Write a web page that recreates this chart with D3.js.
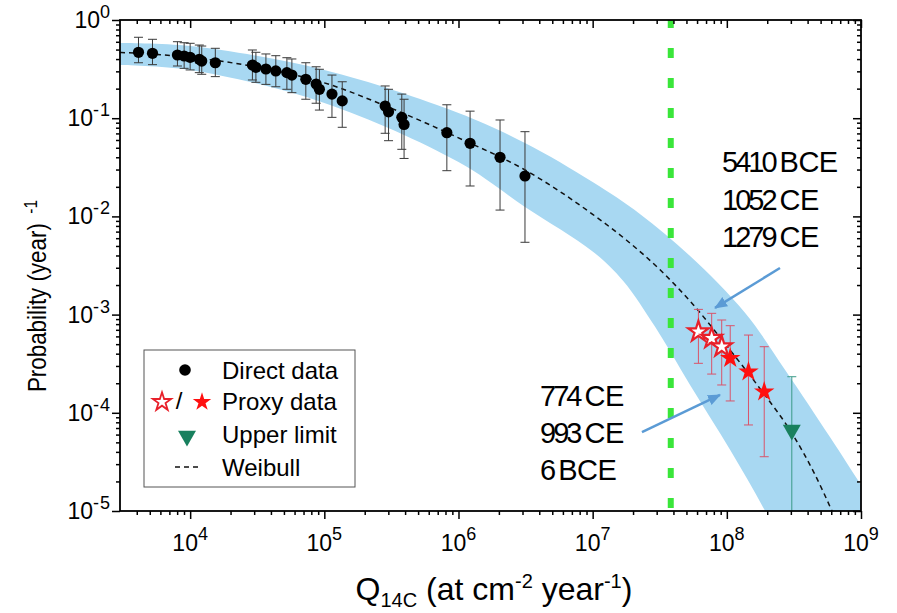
<!DOCTYPE html>
<html><head><meta charset="utf-8">
<script src="https://cdn.jsdelivr.net/npm/d3@7"></script>
<style>
html,body{margin:0;padding:0;background:#fff;}
svg{display:block;font-family:"Liberation Sans",Arial,sans-serif;}
</style></head><body>
<svg id="chart" width="897" height="613"></svg>
<script>
// ---------------- data ----------------
const xDomain = [3e3, 1e9];
const yDomain = [1e-5, 1];
const xTickExp = [4, 5, 6, 7, 8, 9];
const yTickExp = [0, -1, -2, -3, -4, -5];

// Direct data (black dots)
const directQ   = [4.12e3, 5.24e3, 8.04e3, 9.02e3, 1.0e4, 1.17e4, 1.22e4, 1.54e4, 2.91e4, 3.09e4, 3.67e4, 4.35e4, 5.26e4, 5.73e4, 7.28e4, 8.69e4, 9.19e4, 1.14e5, 1.36e5, 2.84e5, 3.01e5, 3.78e5, 3.93e5, 8.19e5, 1.22e6, 2.04e6, 3.13e6];
const directP   = [0.469, 0.458, 0.440, 0.430, 0.417, 0.398, 0.382, 0.367, 0.348, 0.330, 0.317, 0.303, 0.291, 0.275, 0.249, 0.223, 0.197, 0.176, 0.150, 0.133, 0.116, 0.102, 0.0863, 0.0712, 0.0555, 0.040, 0.0258];
const directUp  = [0.667, 0.636, 0.601, 0.587, 0.579, 0.556, 0.543, 0.515, 0.495, 0.469, 0.451, 0.433, 0.413, 0.401, 0.367, 0.334, 0.315, 0.275, 0.235, 0.213, 0.197, 0.176, 0.156, 0.137, 0.118, 0.0959, 0.0729];
const directLow = [0.367, 0.351, 0.340, 0.322, 0.310, 0.291, 0.280, 0.265, 0.245, 0.232, 0.221, 0.209, 0.197, 0.182, 0.156, 0.142, 0.121, 0.102, 0.0808, 0.0702, 0.0590, 0.0482, 0.0389, 0.0292, 0.0204, 0.0116, 0.00545];

// Proxy data (stars)
const proxyQ      = [6.14e7, 7.71e7, 9.16e7, 1.06e8, 1.45e8, 1.90e8];
const proxyP      = [6.70e-4, 5.74e-4, 4.71e-4, 3.59e-4, 2.62e-4, 1.64e-4];
const proxyUp     = [1.13e-3, 1.03e-3, 8.81e-4, 7.71e-4, 6.19e-4, 4.71e-4];
const proxyLow    = [3.19e-4, 2.48e-4, 1.92e-4, 1.32e-4, 7.52e-5, 3.57e-5];
const proxyHollow = [true, true, true, false, false, false];

// Upper limit (triangle)
const limitQ   = [3.05e8];
const limitP   = [6.68e-5];
const limitUp  = [2.33e-4];
const limitLow = [1e-6];

// Weibull fit curve
const weibullQ = [3.0e3, 1e4, 3.16e4, 1e5, 3.16e5, 1e6, 3.16e6, 1e7, 1.78e7, 3.16e7, 5.62e7, 1e8, 1.78e8, 3.16e8, 4.47e8, 6.31e8];
const weibullP = [0.468, 0.417, 0.331, 0.229, 0.126, 0.0631, 0.0295, 0.0105, 5.75e-3, 2.88e-3, 1.26e-3, 4.79e-4, 1.74e-4, 5.75e-5, 2.45e-5, 8.9e-6];

// Uncertainty band edges
const bandUpperQ = [3.0e3, 1e4, 1e5, 1e6, 3.13e6, 1e7, 2.25e7, 5.32e7, 1.37e8, 2.72e8, 5.87e8, 1e9, 1.39e9];
const bandUpperP = [0.583, 0.543, 0.310, 0.113, 0.0559, 0.0224, 0.0106, 3.95e-3, 1.04e-3, 2.73e-4, 5.67e-5, 1.84e-5, 9.1e-6];
const bandLowerQ = [3.0e3, 1e4, 1e5, 1e6, 3.13e6, 1e7, 1.69e7, 2.92e7, 5.32e7, 1.06e8, 1.93e8, 2.96e8];
const bandLowerP = [0.348, 0.310, 0.143, 0.0358, 0.0125, 4.4e-3, 2.2e-3, 7.5e-4, 1.92e-4, 4.18e-5, 1.0e-5, 3.17e-6];

// Threshold (green dashed line)
const thresholdQ = 3.82e7;

// Annotations
const labelsRight = [["5410", "BCE"], ["1052", "CE"], ["1279", "CE"]];
const labelsLeft  = [["774", "CE"], ["993", "CE"], ["6", "BCE"]];
const arrowRight = {from: [2.49e8, 2.98e-3], to: [8.17e7, 1.17e-3]};
const arrowLeft  = {from: [2.33e7, 6.37e-5], to: [8.89e7, 1.52e-4]};

const legendLabels = ["Direct data", "Proxy data", "Upper limit", "Weibull"];

// ---------------- layout ----------------
const W = 897, H = 613;
const M = {left: 120, right: 861, top: 20, bottom: 511};
const x = d3.scaleLog().domain(xDomain).range([M.left, M.right]);
const y = d3.scaleLog().domain(yDomain).range([M.bottom, M.top]);

const svg = d3.select('#chart');
svg.append('rect').attr('width', W).attr('height', H).attr('fill', '#fff');
const defs = svg.append('defs');
defs.append('clipPath').attr('id', 'clip').append('rect')
  .attr('x', M.left).attr('y', M.top).attr('width', M.right - M.left).attr('height', M.bottom - M.top);
defs.append('marker').attr('id', 'ah').attr('viewBox', '0 0 12 10')
  .attr('refX', 11).attr('refY', 5).attr('markerUnits', 'userSpaceOnUse')
  .attr('markerWidth', 13).attr('markerHeight', 11).attr('orient', 'auto')
  .append('path').attr('d', 'M0,0 L12,5 L0,10 Z').attr('fill', '#5b9bd5');

const plot = svg.append('g').attr('clip-path', 'url(#clip)');

// band
const edge = d3.line().x(d => x(d[0])).y(d => y(d[1])).curve(d3.curveCatmullRom);
const up = bandUpperQ.map((q, i) => [q, bandUpperP[i]]);
const lo = bandLowerQ.map((q, i) => [q, bandLowerP[i]]).reverse();
plot.append('path')
  .attr('d', edge(up) + edge(lo).replace(/^M/, 'L') + 'Z')
  .attr('fill', '#a8d8f2');

// threshold line
plot.append('line').attr('x1', x(thresholdQ)).attr('x2', x(thresholdQ))
  .attr('y1', M.top).attr('y2', M.bottom)
  .attr('stroke', '#3ae63a').attr('stroke-width', 6)
  .attr('stroke-dasharray', '10,20').attr('stroke-dashoffset', 2);

// Weibull curve
const wData = weibullQ.map((q, i) => ({q, p: weibullP[i]}));
plot.append('path').datum(wData)
  .attr('d', d3.line().x(d => x(d.q)).y(d => y(d.p)).curve(d3.curveMonotoneX))
  .attr('fill', 'none').attr('stroke', '#111').attr('stroke-width', 1.5)
  .attr('stroke-dasharray', '5,4');

// error bar helper
function errBar(g, q, lo, hi, color, w, cap, capLow = true) {
  const cx = x(q);
  g.append('line').attr('x1', cx).attr('x2', cx).attr('y1', y(lo)).attr('y2', y(hi))
    .attr('stroke', color).attr('stroke-width', w);
  g.append('line').attr('x1', cx - cap).attr('x2', cx + cap).attr('y1', y(hi)).attr('y2', y(hi))
    .attr('stroke', color).attr('stroke-width', w);
  if (capLow) g.append('line').attr('x1', cx - cap).attr('x2', cx + cap).attr('y1', y(lo)).attr('y2', y(lo))
    .attr('stroke', color).attr('stroke-width', w);
}

// direct data
const gDir = plot.append('g');
directQ.forEach((q, i) => errBar(gDir, q, directLow[i], directUp[i], '#3a3a3a', 1, 4.5));
directQ.forEach((q, i) => gDir.append('circle').attr('cx', x(q)).attr('cy', y(directP[i])).attr('r', 5.6).attr('fill', '#000'));

// proxy data
const gPr = plot.append('g');
proxyQ.forEach((q, i) => errBar(gPr, q, proxyLow[i], proxyUp[i], '#d9546a', 1, 4.5));
const star = d3.symbol().type(d3.symbolStar).size(130);
proxyQ.forEach((q, i) => {
  gPr.append('path').attr('d', star()).attr('transform', `translate(${x(q)},${y(proxyP[i])})`)
    .attr('fill', proxyHollow[i] ? '#fff' : '#ff1010')
    .attr('stroke', proxyHollow[i] ? '#e8202a' : 'none').attr('stroke-width', 2.2);
});

// upper limit
const gUl = plot.append('g');
limitQ.forEach((q, i) => errBar(gUl, q, limitLow[i], limitUp[i], '#3a9a88', 1, 4.5, false));
const tri = d3.symbol().type(d3.symbolTriangle).size(140);
limitQ.forEach((q, i) => gUl.append('path').attr('d', tri())
  .attr('transform', `translate(${x(q)},${y(limitP[i])}) rotate(180)`).attr('fill', '#18805e'));

// arrows
[arrowRight, arrowLeft].forEach(a => {
  svg.append('line').attr('x1', x(a.from[0])).attr('y1', y(a.from[1]))
    .attr('x2', x(a.to[0])).attr('y2', y(a.to[1]))
    .attr('stroke', '#5b9bd5').attr('stroke-width', 2.5).attr('marker-end', 'url(#ah)');
});

// annotation labels
function yearLabel(xp, yp, parts) {
  const t = svg.append('text').attr('x', xp).attr('y', yp).attr('font-size', 29).attr('fill', '#000');
  t.append('tspan').attr('letter-spacing', -3).text(parts[0] + ' ');
  t.append('tspan').attr('letter-spacing', -0.5).text(parts[1]);
}
labelsRight.forEach((p, i) => yearLabel(722, 172 + i * 37.5, p));
labelsLeft.forEach((p, i) => yearLabel(540, 406 + i * 37, p));

// ---------------- axes ----------------
const xMajor = xTickExp.map(e => Math.pow(10, e));
const yMajor = yTickExp.map(e => Math.pow(10, e));
const xMinor = [], yMinor = [];
for (let e = 3; e <= 8; e++) for (let k = 2; k <= 9; k++) { const v = k * Math.pow(10, e); if (v > 3.05e3 && v < 1e9) xMinor.push(v); }
for (let e = -5; e <= -1; e++) for (let k = 2; k <= 9; k++) yMinor.push(k * Math.pow(10, e));

function styleAxis(g) {
  g.select('.domain').remove();
  g.selectAll('.tick line').attr('stroke', '#000').attr('stroke-width', 1.5);
  g.selectAll('.tick text').remove();
}
const axes = svg.append('g');
axes.append('g').attr('transform', `translate(0,${M.bottom})`).call(d3.axisBottom(x).tickValues(xMajor).tickSize(8).tickSizeOuter(0)).call(styleAxis);
axes.append('g').attr('transform', `translate(0,${M.bottom})`).call(d3.axisBottom(x).tickValues(xMinor).tickSize(4).tickSizeOuter(0)).call(styleAxis);
axes.append('g').attr('transform', `translate(0,${M.top})`).call(d3.axisTop(x).tickValues(xMajor).tickSize(-8).tickSizeOuter(0)).call(styleAxis);
axes.append('g').attr('transform', `translate(0,${M.top})`).call(d3.axisTop(x).tickValues(xMinor).tickSize(-4).tickSizeOuter(0)).call(styleAxis);
axes.append('g').attr('transform', `translate(${M.left},0)`).call(d3.axisLeft(y).tickValues(yMajor).tickSize(8).tickSizeOuter(0)).call(styleAxis);
axes.append('g').attr('transform', `translate(${M.left},0)`).call(d3.axisLeft(y).tickValues(yMinor).tickSize(4).tickSizeOuter(0)).call(styleAxis);
axes.append('g').attr('transform', `translate(${M.right},0)`).call(d3.axisRight(y).tickValues(yMajor).tickSize(-8).tickSizeOuter(0)).call(styleAxis);
axes.append('g').attr('transform', `translate(${M.right},0)`).call(d3.axisRight(y).tickValues(yMinor).tickSize(-4).tickSizeOuter(0)).call(styleAxis);
svg.append('rect').attr('x', M.left).attr('y', M.top).attr('width', M.right - M.left).attr('height', M.bottom - M.top)
  .attr('fill', 'none').attr('stroke', '#000').attr('stroke-width', 1.8);

// tick labels
xMajor.forEach((v, i) => {
  const t = svg.append('text').attr('x', x(v)).attr('y', 551).attr('text-anchor', 'middle').attr('font-size', 23);
  t.append('tspan').text('10');
  t.append('tspan').attr('font-size', 18).attr('dy', -11).text(xTickExp[i]);
});
yMajor.forEach((v, i) => {
  const t = svg.append('text').attr('x', 111).attr('y', y(v) + 8).attr('text-anchor', 'end').attr('font-size', 23);
  t.append('tspan').text('10');
  t.append('tspan').attr('font-size', 18).attr('letter-spacing', 1).attr('dy', -10).text(yTickExp[i]);
});

// axis titles
const yt = svg.append('text').attr('transform', 'translate(46,296) rotate(-90) scale(0.86,1)').attr('text-anchor', 'middle').attr('font-size', 26);
yt.append('tspan').text('Probability (year)');
yt.append('tspan').attr('font-size', 18).attr('dx', 11).attr('dy', -9).text('-1');

const xt = svg.append('text').attr('x', 494).attr('y', 600).attr('text-anchor', 'middle').attr('font-size', 32);
xt.append('tspan').text('Q');
xt.append('tspan').attr('font-size', 20).attr('dy', 7).text('14C');
xt.append('tspan').attr('dy', -7).text(' (at cm');
xt.append('tspan').attr('font-size', 20).attr('dy', -12).text('-2');
xt.append('tspan').attr('dy', 12).text(' year');
xt.append('tspan').attr('font-size', 20).attr('dy', -12).text('-1');
xt.append('tspan').attr('dy', 12).text(')');

// ---------------- legend ----------------
const lg = svg.append('g');
lg.append('rect').attr('x', 144).attr('y', 350).attr('width', 211).attr('height', 137)
  .attr('fill', '#fff').attr('stroke', '#555').attr('stroke-width', 1);
const rows = [370, 401, 434, 467];
lg.append('circle').attr('cx', 185).attr('cy', rows[0]).attr('r', 5.8).attr('fill', '#000');
const lstar = d3.symbol().type(d3.symbolStar).size(105);
lg.append('path').attr('d', lstar()).attr('transform', `translate(162,${rows[1] + 1})`).attr('fill', '#fff').attr('stroke', '#e8202a').attr('stroke-width', 1.8);
lg.append('text').attr('x', 179).attr('y', rows[1] + 8).attr('text-anchor', 'middle').attr('font-size', 24).text('/');
lg.append('path').attr('d', lstar()).attr('transform', `translate(202,${rows[1] + 1})`).attr('fill', '#ff1010');
lg.append('path').attr('d', tri()).attr('transform', `translate(187,${rows[2] + 2}) rotate(180)`).attr('fill', '#18805e');
lg.append('line').attr('x1', 175).attr('x2', 202).attr('y1', rows[3]).attr('y2', rows[3])
  .attr('stroke', '#111').attr('stroke-width', 1.5).attr('stroke-dasharray', '5,4');
legendLabels.forEach((s, i) => lg.append('text').attr('x', 222).attr('y', rows[i] + 8.5).attr('font-size', 24).text(s));
</script>
</body></html>
